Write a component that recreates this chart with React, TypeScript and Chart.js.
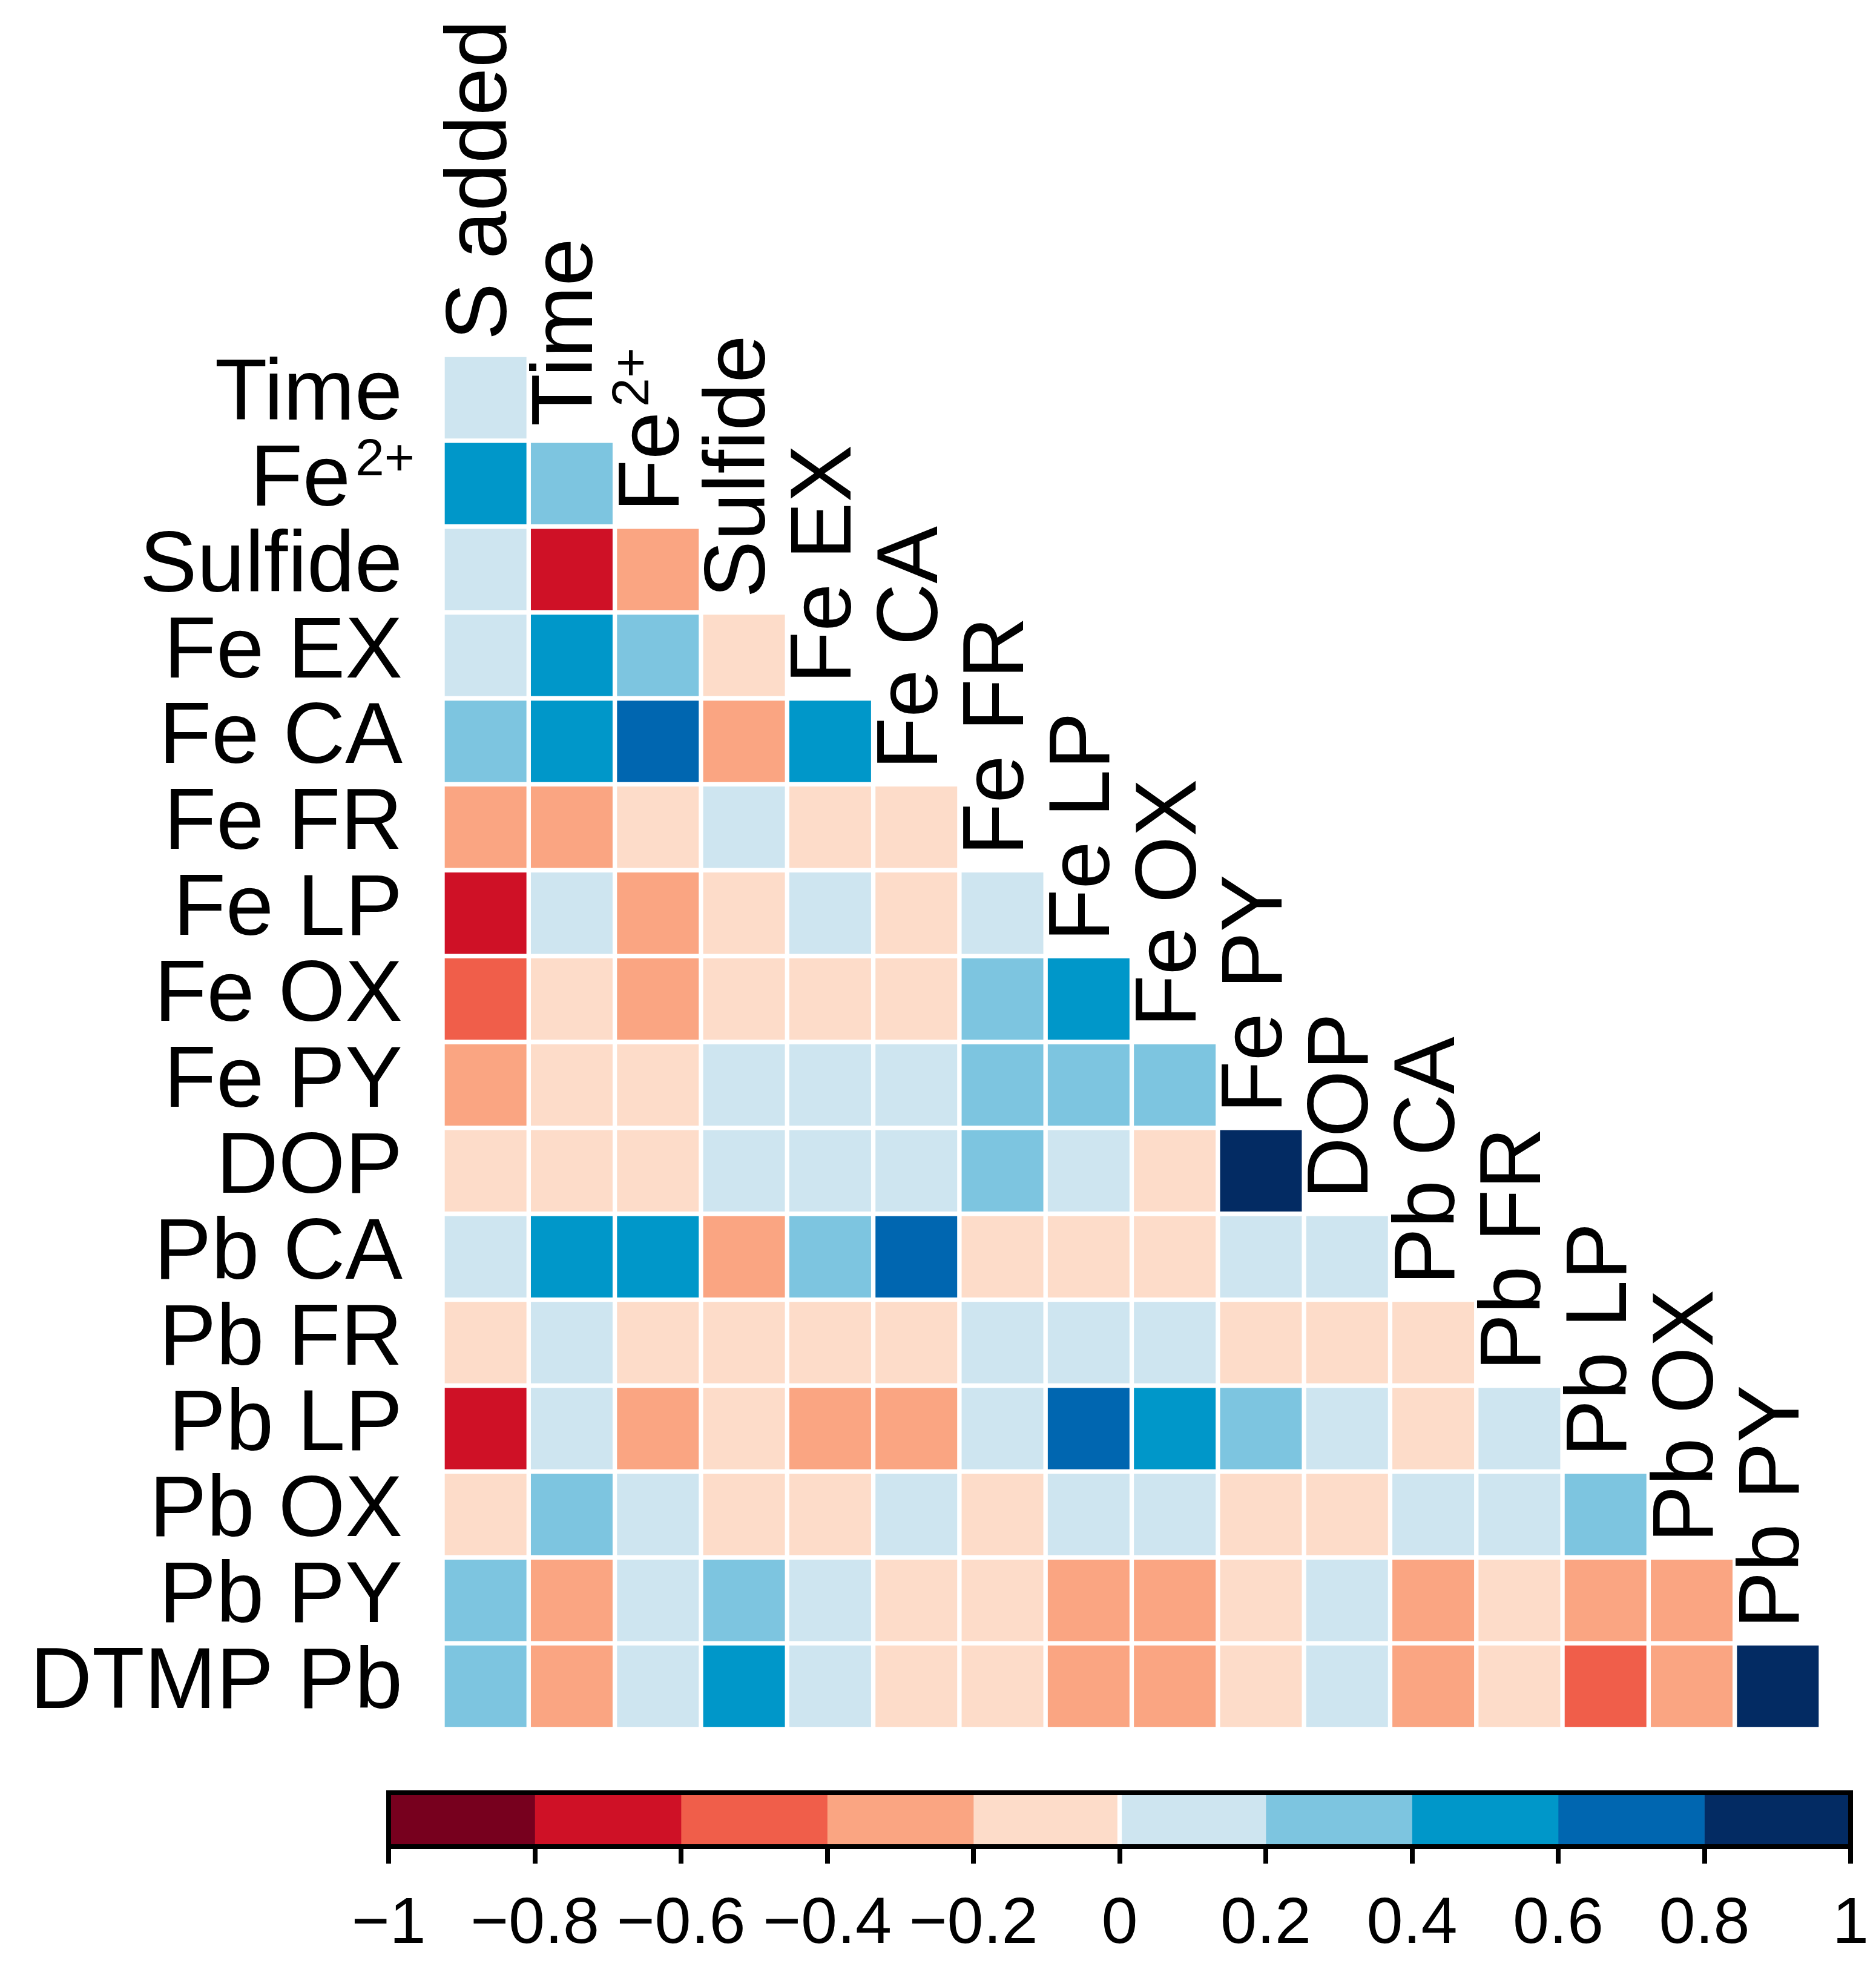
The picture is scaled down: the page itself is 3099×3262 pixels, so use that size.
import React, { useEffect, useRef } from 'react';
import { Chart, registerables } from 'chart.js';

Chart.register(...registerables);

// ---------- data ----------
const columnLabels = ['S added', 'Time', 'Fe2+', 'Sulfide', 'Fe EX', 'Fe CA', 'Fe FR', 'Fe LP', 'Fe OX', 'Fe PY', 'DOP', 'Pb CA', 'Pb FR', 'Pb LP', 'Pb OX', 'Pb PY'];
const rowLabels = ['Time', 'Fe2+', 'Sulfide', 'Fe EX', 'Fe CA', 'Fe FR', 'Fe LP', 'Fe OX', 'Fe PY', 'DOP', 'Pb CA', 'Pb FR', 'Pb LP', 'Pb OX', 'Pb PY', 'DTMP Pb'];

const rTime = [0.1];
const rFe2 = [0.5, 0.3];
const rSulfide = [0.1, -0.7, -0.3];
const rFeEX = [0.1, 0.5, 0.3, -0.1];
const rFeCA = [0.3, 0.5, 0.7, -0.3, 0.5];
const rFeFR = [-0.3, -0.3, -0.1, 0.1, -0.1, -0.1];
const rFeLP = [-0.7, 0.1, -0.3, -0.1, 0.1, -0.1, 0.1];
const rFeOX = [-0.5, -0.1, -0.3, -0.1, -0.1, -0.1, 0.3, 0.5];
const rFePY = [-0.3, -0.1, -0.1, 0.1, 0.1, 0.1, 0.3, 0.3, 0.3];
const rDOP = [-0.1, -0.1, -0.1, 0.1, 0.1, 0.1, 0.3, 0.1, -0.1, 0.9];
const rPbCA = [0.1, 0.5, 0.5, -0.3, 0.3, 0.7, -0.1, -0.1, -0.1, 0.1, 0.1];
const rPbFR = [-0.1, 0.1, -0.1, -0.1, -0.1, -0.1, 0.1, 0.1, 0.1, -0.1, -0.1, -0.1];
const rPbLP = [-0.7, 0.1, -0.3, -0.1, -0.3, -0.3, 0.1, 0.7, 0.5, 0.3, 0.1, -0.1, 0.1];
const rPbOX = [-0.1, 0.3, 0.1, -0.1, -0.1, 0.1, -0.1, 0.1, 0.1, -0.1, -0.1, 0.1, 0.1, 0.3];
const rPbPY = [0.3, -0.3, 0.1, 0.3, 0.1, -0.1, -0.1, -0.3, -0.3, -0.1, 0.1, -0.3, -0.1, -0.3, -0.3];
const rDTMP = [0.3, -0.3, 0.1, 0.5, 0.1, -0.1, -0.1, -0.3, -0.3, -0.1, 0.1, -0.3, -0.1, -0.5, -0.3, 0.9];

const matrixRows = [rTime, rFe2, rSulfide, rFeEX, rFeCA, rFeFR, rFeLP, rFeOX, rFePY, rDOP, rPbCA, rPbFR, rPbLP, rPbOX, rPbPY, rDTMP];

const colorBreaks = [-1, -0.8, -0.6, -0.4, -0.2, 0, 0.2, 0.4, 0.6, 0.8, 1];
const binColors = ['#77001E', '#CF1126', '#F05E4A', '#FAA582', '#FDDCC9', '#CEE5F0', '#7DC5E0', '#0097C9', '#0066B0', '#032B63'];

// ---------- helpers ----------
const FAM = '"Liberation Sans", Arial, Helvetica, sans-serif';
const FS = 142;
const SUP_FS = 86;
const SUP_RISE = 50;

function colorFor(v: number): string {
  let idx = Math.floor((v + 1) / 0.2 + 1e-9);
  if (idx < 0) idx = 0;
  if (idx > 9) idx = 9;
  return binColors[idx];
}

function drawLabel(ctx: CanvasRenderingContext2D, lab: string, x: number, y: number, align: 'left' | 'right') {
  ctx.textBaseline = 'alphabetic';
  if (lab === 'Fe2+') {
    ctx.font = `${FS}px ${FAM}`;
    const feW = ctx.measureText('Fe').width;
    ctx.font = `${SUP_FS}px ${FAM}`;
    const supW = ctx.measureText('2+').width;
    const gap = 8;
    const startX = align === 'left' ? x : x - feW - gap - supW + 20;
    ctx.textAlign = 'left';
    ctx.font = `${FS}px ${FAM}`;
    ctx.fillText('Fe', startX, y);
    ctx.font = `${SUP_FS}px ${FAM}`;
    ctx.fillText('2+', startX + feW + gap, y - SUP_RISE);
  } else {
    ctx.font = `${FS}px ${FAM}`;
    ctx.textAlign = align;
    ctx.fillText(lab, x, y);
  }
}

const labelPlugin = {
  id: 'corrLabels',
  afterDraw(chart: any) {
    const ctx: CanvasRenderingContext2D = chart.ctx;
    const xs = chart.scales.x;
    const ys = chart.scales.y;
    const area = chart.chartArea;
    ctx.save();
    ctx.fillStyle = '#000';
    rowLabels.forEach((lab, i) => {
      const yc = ys.getPixelForValue(i);
      drawLabel(ctx, lab, area.left - 66, yc + 36, 'right');
    });
    columnLabels.forEach((lab, j) => {
      const xc = xs.getPixelForValue(j);
      const top = ys.getPixelForValue(j - 0.5) + 4 - 28;
      ctx.save();
      ctx.translate(xc + 34, top);
      ctx.rotate(-Math.PI / 2);
      drawLabel(ctx, lab, 0, 0, 'left');
      ctx.restore();
    });
    ctx.restore();
  },
};

const framePlugin = {
  id: 'cbFrame',
  afterDraw(chart: any) {
    const { left, right, top, bottom } = chart.chartArea;
    const ctx: CanvasRenderingContext2D = chart.ctx;
    ctx.save();
    ctx.strokeStyle = '#000';
    ctx.lineWidth = 8;
    ctx.strokeRect(left, top, right - left, bottom - top);
    ctx.restore();
  },
};

const W = 3099;
const MAIN_H = 2900;
const CB_TOP = 2900;
const CB_H = 362;

export default function App() {
  const mainRef = useRef<HTMLCanvasElement>(null);
  const cbRef = useRef<HTMLCanvasElement>(null);

  useEffect(() => {
    const datasets = matrixRows.map((row, i) => ({
      label: rowLabels[i],
      data: columnLabels.map((_, j) => (j < row.length ? [i - 0.5, i + 0.5] : null)),
      backgroundColor: columnLabels.map((_, j) => (j < row.length ? colorFor(row[j]) : 'rgba(0,0,0,0)')),
      borderColor: '#ffffff',
      borderWidth: 4,
      borderSkipped: false,
      grouped: false,
      barPercentage: 1,
      categoryPercentage: 1,
    }));

    const main = new Chart(mainRef.current as HTMLCanvasElement, {
      type: 'bar',
      data: { labels: columnLabels, datasets: datasets as any },
      options: {
        animation: false,
        responsive: false,
        devicePixelRatio: 1,
        layout: { padding: { left: 731, right: W - 3008, top: 586, bottom: MAIN_H - 2856 } },
        plugins: { legend: { display: false }, tooltip: { enabled: false } },
        scales: {
          x: { type: 'category', display: false, offset: true },
          y: { type: 'linear', display: false, min: -0.5, max: 15.5, reverse: true },
        },
      } as any,
      plugins: [labelPlugin],
    });

    const cbDatasets = binColors.map((c, k) => ({
      label: `${colorBreaks[k]}`,
      data: [[colorBreaks[k], colorBreaks[k + 1]]],
      backgroundColor: c,
      borderWidth: 0,
      grouped: false,
      barPercentage: 1,
      categoryPercentage: 1,
    }));

    const cb = new Chart(cbRef.current as HTMLCanvasElement, {
      type: 'bar',
      data: { labels: ['scale'], datasets: cbDatasets as any },
      options: {
        animation: false,
        responsive: false,
        devicePixelRatio: 1,
        indexAxis: 'y',
        layout: { padding: { left: 642, right: W - 3057, top: 61, bottom: 0 } },
        plugins: { legend: { display: false }, tooltip: { enabled: false } },
        scales: {
          y: { type: 'category', display: false, offset: true },
          x: {
            type: 'linear',
            min: -1,
            max: 1,
            afterFit: (s: any) => {
              s.height = CB_H - 61 - 89;
              s.paddingLeft = 0;
              s.paddingRight = 0;
            },
            border: { display: true, width: 8, color: '#000' },
            grid: { display: true, drawOnChartArea: false, drawTicks: true, tickLength: 28, tickWidth: 8, tickColor: '#000', lineWidth: 8, color: '#000' },
            ticks: {
              stepSize: 0.2,
              padding: 36,
              color: '#000',
              maxRotation: 0,
              autoSkip: false,
              font: { size: 108, family: FAM },
              callback: (v: any) => {
                const r = Math.round(Number(v) * 10) / 10;
                if (r === 0) return '0';
                const s = String(Math.abs(r));
                return (r < 0 ? '\u2212' : '') + s;
              },
            },
          },
        },
      } as any,
      plugins: [framePlugin],
    });

    return () => {
      main.destroy();
      cb.destroy();
    };
  }, []);

  return (
    <div style={{ position: 'absolute', left: 0, top: 0, width: W, height: CB_TOP + CB_H, background: '#fff' }}>
      <canvas ref={mainRef} width={W} height={MAIN_H} style={{ position: 'absolute', left: 0, top: 0, width: W, height: MAIN_H }} />
      <canvas ref={cbRef} width={W} height={CB_H} style={{ position: 'absolute', left: 0, top: CB_TOP, width: W, height: CB_H }} />
    </div>
  );
}
